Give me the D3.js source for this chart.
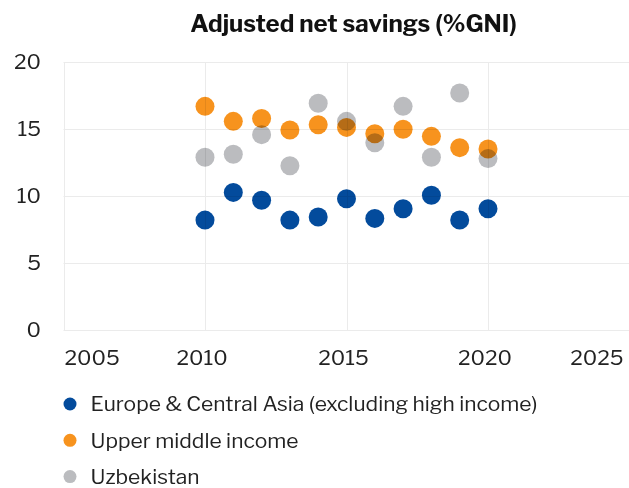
<!DOCTYPE html>
<html><head><meta charset="utf-8">
<script src="https://cdn.jsdelivr.net/npm/d3@7"></script>
<style>body{margin:0;background:#fff}svg{display:block}</style>
</head><body><svg id="c" width="629" height="488"></svg>
<script>
const title = "Adjusted net savings (%GNI)";
const years = [2010,2011,2012,2013,2014,2015,2016,2017,2018,2019,2020];
const seriesNames = ["Europe & Central Asia (excluding high income)","Upper middle income","Uzbekistan"];
const colors = ["#034b9c","#f7931e","#bbbcbf"];
const europe = [8.2,10.27,9.68,8.2,8.43,9.8,8.33,9.05,10.05,8.21,9.05];
const upperMiddle = [16.69,15.57,15.79,14.93,15.32,15.12,14.65,14.98,14.45,13.61,13.51];
const uzbekistan = [12.89,13.11,14.58,12.26,16.92,15.57,13.98,16.69,12.89,17.69,12.79];
const xTicks = [2005,2010,2015,2020,2025];
const yTicks = [0,5,10,15,20];
const values = [europe, upperMiddle, uzbekistan];

const font = "'Libre Franklin', Roboto, sans-serif";
const svg = d3.select("#c");
const x = d3.scaleLinear().domain([2005,2025]).range([63.5,629.5]);
const y = d3.scaleLinear().domain([0,20]).range([330,62]);

svg.append("text").attr("x",353.5).attr("y",32).attr("text-anchor","middle")
  .attr("font-family",font).attr("font-weight",700).attr("font-size",24).attr("fill","#111").text(title);

const g = svg.append("g");
g.selectAll("line.h").data(yTicks).join("line").attr("class","h")
  .attr("x1",x(2005)).attr("x2",x(2025)).attr("y1",d=>Math.round(y(d))+0.5).attr("y2",d=>Math.round(y(d))+0.5)
  .attr("stroke","#ebebeb").attr("stroke-width",1);
g.selectAll("line.v").data(xTicks).join("line").attr("class","v")
  .attr("x1",d=>Math.round(x(d))+0.5).attr("x2",d=>Math.round(x(d))+0.5).attr("y1",y(20)).attr("y2",y(0))
  .attr("stroke","#ebebeb").attr("stroke-width",1);

g.selectAll("text.yl").data(yTicks).join("text").attr("class","yl")
  .attr("x",41).attr("y",d=>y(d)).attr("dy","0.35em").attr("text-anchor","end")
  .attr("font-family",font).attr("font-size",21).attr("fill","#222").text(d=>d);
g.selectAll("text.xl").data(xTicks).join("text").attr("class","xl")
  .attr("x",(d,i)=> i===0 ? x(d)+1 : i===xTicks.length-1 ? x(d)-6 : x(d)-3)
  .attr("y",365)
  .attr("text-anchor",(d,i)=> i===0 ? "start" : i===xTicks.length-1 ? "end" : "middle")
  .attr("font-family",font).attr("font-size",21).attr("fill","#222").text(d=>d);

values.forEach((vals,si)=>{
  g.append("g").selectAll("circle").data(years.map((yr,i)=>[yr,vals[i]])).join("circle")
    .attr("cx",d=>x(d[0])).attr("cy",d=>y(d[1])).attr("r",9.5)
    .attr("fill",colors[si]).style("mix-blend-mode","multiply");
});

const leg = svg.append("g");
seriesNames.forEach((n,i)=>{
  const yy = 404 + i*36.3;
  leg.append("circle").attr("cx",70).attr("cy",yy).attr("r",6.5).attr("fill",colors[i]);
  leg.append("text").attr("x",90.5).attr("y",yy).attr("dy","0.35em")
    .attr("font-family",font).attr("font-size",21).attr("fill","#222").text(n);
});
</script></body></html>
